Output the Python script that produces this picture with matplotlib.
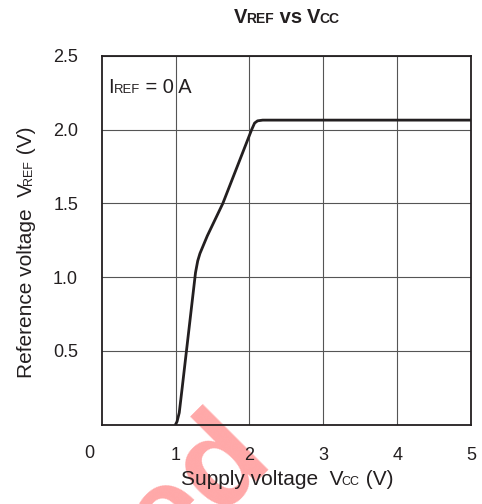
import numpy as np
import matplotlib
matplotlib.use("Agg")
import matplotlib.pyplot as plt
import matplotlib.transforms as mtransforms


# curve: VREF against VCC, IREF = 0 A
vcc = [1.00, 1.02, 1.05, 1.09, 1.27, 1.30, 1.33, 1.43, 1.64, 2.03, 2.07, 2.11, 2.18, 5.00]
vref = [0.00, 0.02, 0.08, 0.25, 1.03, 1.11, 1.16, 1.28, 1.50, 2.00, 2.045, 2.06, 2.065, 2.065]

x_ticks = [1, 2, 3, 4, 5]
y_ticks = [0.5, 1.0, 1.5, 2.0, 2.5]
y_tick_labels = ["0.5", "1.0", "1.5", "2.0", "2.5"]

W, H, DPI = 482, 504, 100
INK = "#231f20"

plt.rcParams["font.family"] = ["Liberation Sans", "DejaVu Sans"]


def text_width(fig, renderer, s, size, weight):
    """Advance width of s in pixels (spaces included)."""
    t1 = fig.text(0, 0, "a" + s + "a", fontsize=size, fontweight=weight)
    t2 = fig.text(0, 0, "aa", fontsize=size, fontweight=weight)
    w = t1.get_window_extent(renderer).width - t2.get_window_extent(renderer).width
    t1.remove()
    t2.remove()
    return w


def rich_text(fig, x, y, runs, ha="center", rotation=0, color=INK):
    """Draw runs of (text, size, weight) on one baseline. x, y are display pixels."""
    renderer = fig.canvas.get_renderer()
    widths = [text_width(fig, renderer, s, size, weight) for s, size, weight in runs]
    total = sum(widths)
    offset = {"left": 0.0, "center": -total / 2, "right": -total}[ha]
    angle = np.deg2rad(rotation)
    dx, dy = np.cos(angle), np.sin(angle)
    for (s, size, weight), w in zip(runs, widths):
        fig.text(x + offset * dx, y + offset * dy, s, fontsize=size, fontweight=weight,
                 color=color, ha="left", va="baseline", rotation=rotation,
                 rotation_mode="anchor", transform=mtransforms.IdentityTransform())
        offset += w


fig = plt.figure(figsize=(W / DPI, H / DPI), dpi=DPI)
ax = fig.add_axes([101.7 / W, 1 - 424.5 / H, (471 - 101.7) / W, (424.5 - 56) / H])
ax.set_facecolor("none")

ax.plot(vcc, vref, color=INK, linewidth=2.0, solid_capstyle="round", zorder=3)

ax.set_xlim(0, 5)
ax.set_ylim(0, 2.5)
ax.set_xticks(x_ticks)
ax.set_xticklabels([str(v) for v in x_ticks])
ax.set_yticks(y_ticks)
ax.set_yticklabels(y_tick_labels)
ax.tick_params(length=0, labelsize=13, colors=INK)
ax.tick_params(axis="x", pad=16)
ax.tick_params(axis="y", pad=17)
ax.grid(True, color="#555555", linewidth=0.8)
for spine in ax.spines.values():
    spine.set_linewidth(1.3)
    spine.set_color(INK)

# shared origin label at the corner
ax.annotate("0", xy=(0, 0), xycoords="data", xytext=(-12, -28.5), textcoords="offset pixels",
            ha="center", va="center", fontsize=13, color=INK)

# red watermark fragment, under the axes (cut by the figure edge as in the source)
fig.text(274 / W, 1 - 460 / H, "ed", fontsize=92, fontweight="bold", color="#ffa8a8",
         rotation=45, rotation_mode="anchor", ha="right", va="baseline", zorder=-1)

# title
rich_text(fig, 286.5, H - 22.7, [("V", 14.5, "bold"), ("REF", 10, "bold"),
                                 (" vs ", 14.5, "bold"), ("V", 14.5, "bold"),
                                 ("CC", 10, "bold")])

# axis labels
rich_text(fig, 287, H - 485, [("Supply voltage  V", 15, "normal"), ("CC", 9, "normal"),
                              (" (V)", 15, "normal")])
rich_text(fig, 31.7, H - 252.5, [("Reference voltage  V", 15, "normal"), ("REF", 9, "normal"),
                                  (" (V)", 15, "normal")], rotation=90)

# condition note inside the plot
px, py = ax.transData.transform((0.09, 2.25))
rich_text(fig, px, py, [("I", 14.4, "normal"), ("REF", 9.4, "normal"),
                        (" = 0 A", 14.4, "normal")], ha="left")

fig.savefig("out.png", dpi=DPI)
